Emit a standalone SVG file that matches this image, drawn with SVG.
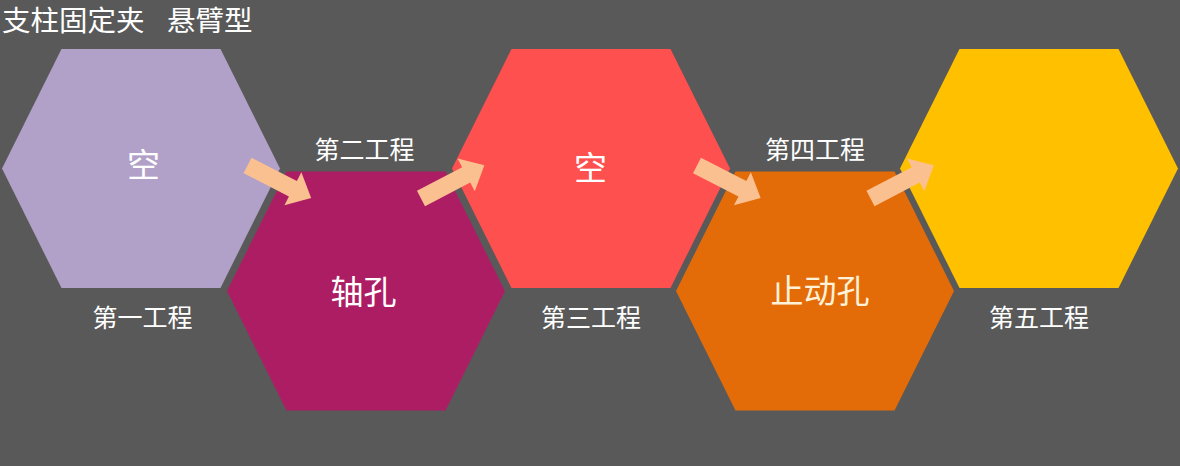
<svg xmlns="http://www.w3.org/2000/svg" width="1180" height="466" viewBox="0 0 1180 466">
<style>
.t{font-family:"Noto Sans CJK SC","Noto Sans CJK JP",sans-serif;fill:#FFFFFF;text-anchor:middle}
.c{font-size:33px}
.s{font-size:25px}
.arr{fill:#FAC090}
</style>
<defs>
<path id="arrow" d="M0,-8.7 L51,-8.7 L51,-18.6 L71.5,0 L51,18.6 L51,8.7 L0,8.7 Z"/>
</defs>
<rect x="0" y="0" width="1180" height="466" fill="#595959"/>
<text x="2" y="31" font-family="Noto Sans CJK SC, sans-serif" font-size="28.5" fill="#FFFFFF">支柱固定夹<tspan x="167">悬臂型</tspan></text>
<g id="node1">
<polygon points="2,168.5 61.5,49 220.5,49 280,168.5 220.5,288 61.5,288" fill="#B1A0C7"/>
<text class="t c" x="143.5" y="177">空</text>
<text class="t s" x="142.5" y="327">第一工程</text>
</g>
<g id="node2">
<polygon points="227,291 286.5,171.5 445.5,171.5 505,291 445.5,410.5 286.5,410.5" fill="#AD1D63"/>
<text class="t c" x="363.5" y="304">轴孔</text>
<text class="t s" x="364.5" y="159">第二工程</text>
</g>
<g id="node3">
<polygon points="452,168.5 511.5,49 670.5,49 730,168.5 670.5,288 511.5,288" fill="#FF5050"/>
<text class="t c" x="590.5" y="180">空</text>
<text class="t s" x="591" y="327">第三工程</text>
</g>
<g id="node4">
<polygon points="676,291 735.5,171.5 894.5,171.5 954,291 894.5,410.5 735.5,410.5" fill="#E36C09"/>
<text class="t c" x="820" y="303" style="fill:#FFF2D8">止动孔</text>
<text class="t s" x="815" y="159">第四工程</text>
</g>
<g id="node5">
<polygon points="900,168.5 959.5,49 1118.5,49 1178,168.5 1118.5,288 959.5,288" fill="#FFC000"/>
<text class="t s" x="1039" y="327">第五工程</text>
</g>
<g id="connectors" class="arr">
<use href="#arrow" transform="translate(247.5,165.5) rotate(27.1)"/>
<use href="#arrow" transform="translate(421,198.5) rotate(-27.6)"/>
<use href="#arrow" transform="translate(697,165.5) rotate(27.1)"/>
<use href="#arrow" transform="translate(870.5,198.5) rotate(-27.6)"/>
</g>
</svg>
